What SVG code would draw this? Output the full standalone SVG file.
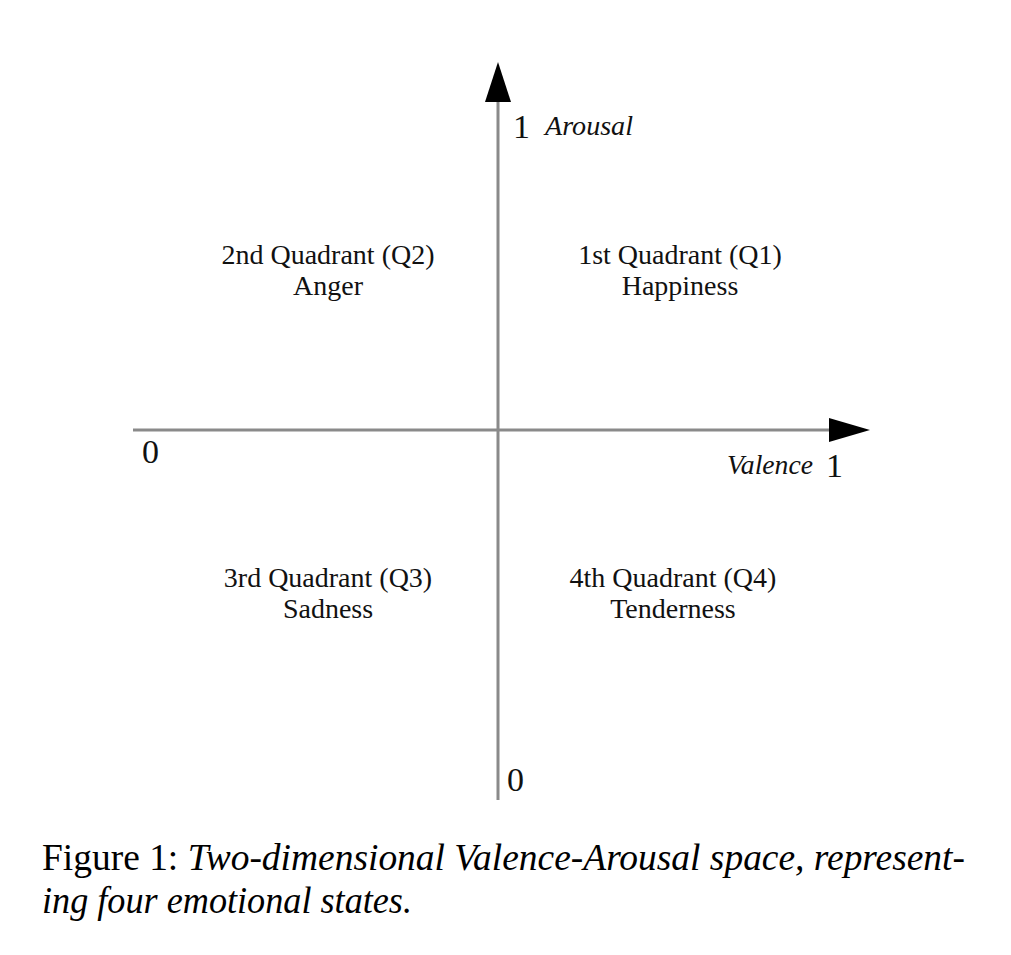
<svg xmlns="http://www.w3.org/2000/svg" width="1011" height="955" viewBox="0 0 1011 955">
<style>
.ax{stroke:#8a8a8a;stroke-width:3;fill:none}
.head{fill:#000}
.q{font-family:"Liberation Serif",serif;font-size:28px;fill:#111;text-anchor:middle}
.num{font-family:"Liberation Serif",serif;font-size:34px;fill:#111}
.lab{font-family:"Liberation Serif",serif;font-style:italic;font-size:27px;fill:#111}
.cap{font-family:"Liberation Serif",serif;font-size:38px;fill:#000}
</style>
<rect width="1011" height="955" fill="#fff"/>
<g id="axes">
<line class="ax" x1="498" y1="100" x2="498" y2="800"/>
<line class="ax" x1="133" y1="430" x2="832" y2="430"/>
<polygon class="head" points="498,62 511,102 485,102"/>
<polygon class="head" points="870,430 829,418 829,442"/>
</g>
<g id="axis-labels">
<text class="num" x="513" y="138">1</text>
<text class="lab" x="545" y="135" textLength="88" lengthAdjust="spacingAndGlyphs">Arousal</text>
<text class="num" x="142" y="463">0</text>
<text class="lab" x="727" y="474" textLength="86" lengthAdjust="spacingAndGlyphs">Valence</text>
<text class="num" x="826" y="477">1</text>
<text class="num" x="507" y="791">0</text>
</g>
<g id="q1"><text class="q" x="680" y="264">1st Quadrant (Q1)</text><text class="q" x="680" y="295">Happiness</text></g>
<g id="q2"><text class="q" x="328" y="264">2nd Quadrant (Q2)</text><text class="q" x="328" y="295">Anger</text></g>
<g id="q3"><text class="q" x="328" y="587">3rd Quadrant (Q3)</text><text class="q" x="328" y="618">Sadness</text></g>
<g id="q4"><text class="q" x="673" y="587">4th Quadrant (Q4)</text><text class="q" x="673" y="618">Tenderness</text></g>
<g id="caption">
<text class="cap" x="42" y="870" textLength="923" lengthAdjust="spacingAndGlyphs">Figure 1: <tspan font-style="italic">Two-dimensional Valence-Arousal space, represent-</tspan></text>
<text class="cap" x="42" y="913" font-style="italic" textLength="370" lengthAdjust="spacingAndGlyphs">ing four emotional states.</text>
</g>
</svg>
